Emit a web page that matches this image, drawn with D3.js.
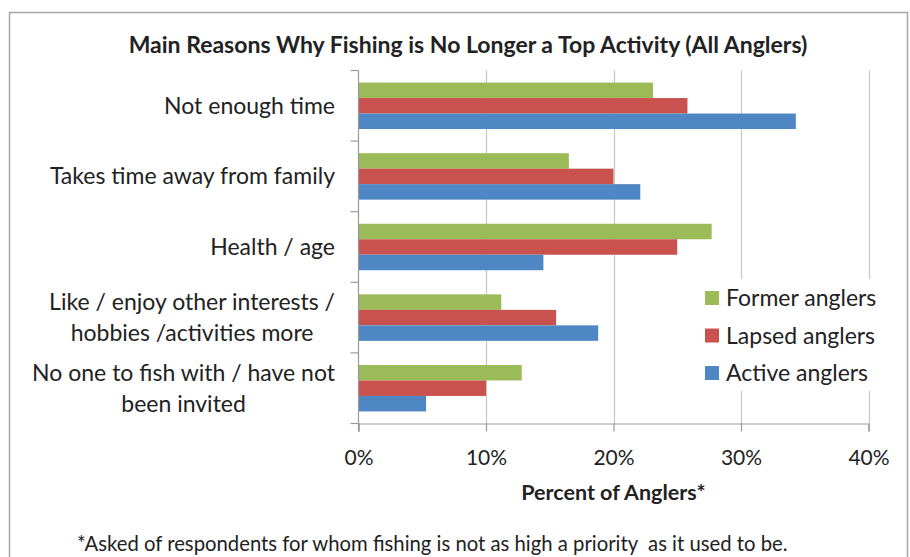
<!DOCTYPE html>
<html>
<head>
<meta charset="utf-8">
<script src="https://cdn.jsdelivr.net/npm/d3@7/dist/d3.min.js"></script>
<style>
  html, body { margin: 0; padding: 0; background: #fff; }
  svg { display: block; }
  text { font-family: Lato, "Open Sans", sans-serif; fill: #222; }
</style>
</head>
<body>
<svg id="chart" width="910" height="557"></svg>
<script>
// Survey reasons (top to bottom), each entry is one line of the axis label
const categories = [
  ["Not enough time"],
  ["Takes time away from family"],
  ["Health / age"],
  ["Like / enjoy other interests /", "hobbies /activities more"],
  ["No one to fish with / have not", "been invited"]
];
const seriesNames = ["Former anglers", "Lapsed anglers", "Active anglers"];
const formerValues = [23.1, 16.5, 27.7, 11.2, 12.8];
const lapsedValues = [25.8, 20.0, 25.0, 15.5, 10.0];
const activeValues = [34.3, 22.1, 14.5, 18.8, 5.3];
const xTicks = [0, 10, 20, 30, 40];
const colors = ["#9bbb59", "#c9524f", "#4f87c4"];

const chartTitle = "Main Reasons Why Fishing is No Longer a Top Activity (All Anglers)";
const xAxisTitle = "Percent of Anglers*";
const footnote = "*Asked of respondents for whom fishing is not as high a priority  as it used to be.";

const seriesValues = [formerValues, lapsedValues, activeValues];
const catKeys = categories.map(c => c.join(" "));

const svg = d3.select("#chart");
const plot = { left: 358.5, right: 868.5, top: 70.5, bottom: 423.5 };

// outer frame
svg.append("rect")
  .attr("x", 9.5).attr("y", 12.5)
  .attr("width", 898).attr("height", 560)
  .attr("fill", "#fff").attr("stroke", "#a6a6a6").attr("stroke-width", 1.5);

const x = d3.scaleLinear().domain([0, 40]).range([plot.left, plot.right]);
const y0 = d3.scaleBand().domain(catKeys).range([plot.top, plot.bottom]).padding(0);
const y1 = d3.scaleBand().domain(seriesNames).range([0, y0.bandwidth()])
  .paddingInner(0).paddingOuter(0.78);

// vertical gridlines
svg.append("g").selectAll("line")
  .data(xTicks.filter(t => t > 0))
  .join("line")
  .attr("x1", d => Math.round(x(d)) + 0.5).attr("x2", d => Math.round(x(d)) + 0.5)
  .attr("y1", plot.top).attr("y2", plot.bottom)
  .attr("stroke", "#c6c6c6").attr("stroke-width", 1.2);

// bars
const groups = svg.append("g").selectAll("g")
  .data(catKeys)
  .join("g")
  .attr("transform", d => `translate(0,${y0(d)})`);

groups.selectAll("rect")
  .data((d, i) => seriesNames.map((s, j) => ({ s, j, v: seriesValues[j][i] })))
  .join("rect")
  .attr("x", x(0))
  .attr("y", d => y1(d.s))
  .attr("width", d => x(d.v) - x(0))
  .attr("height", y1.bandwidth())
  .attr("fill", d => colors[d.j]);

// x axis
const xAxis = d3.axisBottom(x)
  .tickValues(xTicks)
  .tickFormat(d => d + "%")
  .tickSize(8)
  .tickPadding(19);
const gx = svg.append("g")
  .attr("transform", `translate(0,${plot.bottom})`)
  .call(xAxis);
gx.select(".domain").attr("stroke", "#9a9a9a").attr("stroke-width", 1.2);
gx.selectAll(".tick line").attr("stroke", "#9a9a9a").attr("stroke-width", 1.2);
gx.selectAll(".tick text")
  .attr("font-family", "Lato, sans-serif")
  .attr("font-size", 21)
  .attr("fill", "#222");

// y axis: line with tick marks at category boundaries
const gy = svg.append("g");
gy.append("line")
  .attr("x1", plot.left).attr("x2", plot.left)
  .attr("y1", plot.top).attr("y2", plot.bottom + 8)
  .attr("stroke", "#9a9a9a").attr("stroke-width", 1.2);
gy.selectAll("line.tick")
  .data(catKeys.map(k => y0(k)).concat([plot.bottom]))
  .join("line")
  .attr("class", "tick")
  .attr("x1", plot.left - 8).attr("x2", plot.left)
  .attr("y1", d => d).attr("y2", d => d)
  .attr("stroke", "#9a9a9a").attr("stroke-width", 1.2);

// category labels: right aligned block, lines centred on each other
const labelRight = 335;
const lineH = 31;
categories.forEach((lines, i) => {
  const cy = y0(catKeys[i]) + y0.bandwidth() / 2;
  const g = svg.append("g");
  const texts = lines.map((ln, k) => g.append("text")
    .attr("font-size", 23)
    .attr("dy", "0.35em")
    .attr("y", cy + (k - (lines.length - 1) / 2) * lineH)
    .text(ln));
  const widths = texts.map(t => t.node().getComputedTextLength());
  const maxW = d3.max(widths);
  texts.forEach(t => t.attr("text-anchor", "middle").attr("x", labelRight - maxW / 2));
});

// legend (white box over gridlines)
const legend = svg.append("g").attr("transform", "translate(694,279)");
legend.append("rect").attr("x", 0).attr("y", 0).attr("width", 196).attr("height", 112).attr("fill", "#fff");
seriesNames.forEach((name, i) => {
  const cy = 19 + i * 37.5;
  legend.append("rect")
    .attr("x", 11).attr("y", cy - 7).attr("width", 14).attr("height", 14)
    .attr("fill", colors[i]);
  legend.append("text")
    .attr("x", 32).attr("y", cy).attr("dy", "0.35em")
    .attr("font-size", 23)
    .text(name);
});

// titles
svg.append("text")
  .attr("x", 468).attr("y", 45).attr("dy", "0.35em")
  .attr("text-anchor", "middle")
  .attr("font-size", 23).attr("font-weight", "bold")
  .text(chartTitle);

svg.append("text")
  .attr("x", (plot.left + plot.right) / 2).attr("y", 492).attr("dy", "0.35em")
  .attr("text-anchor", "middle")
  .attr("font-size", 21.5).attr("font-weight", "bold")
  .text(xAxisTitle);

svg.append("text")
  .attr("x", 77).attr("y", 544).attr("dy", "0.35em")
  .attr("font-size", 20.3)
  .attr("xml:space", "preserve")
  .style("white-space", "pre")
  .text(footnote);
</script>
</body>
</html>
